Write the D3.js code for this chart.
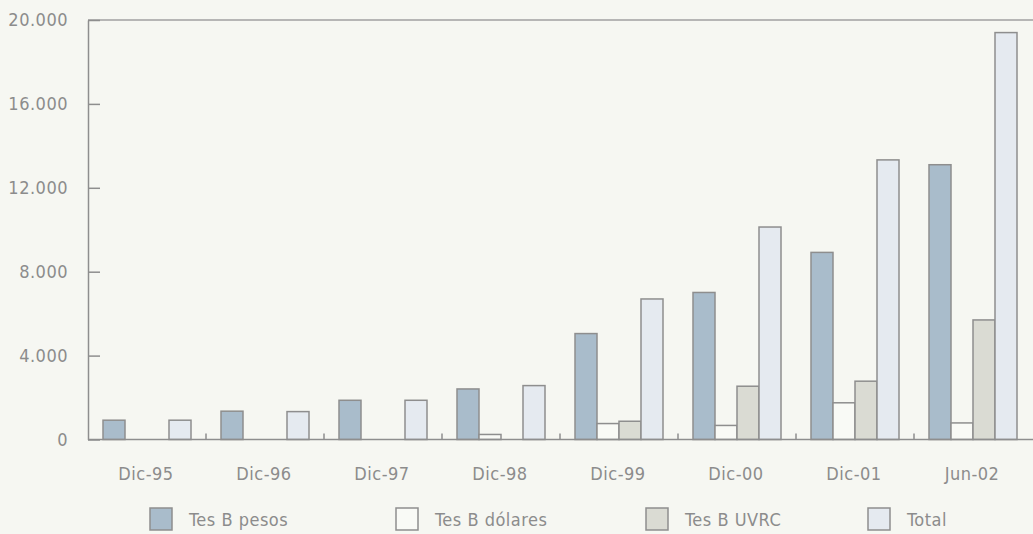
<!DOCTYPE html>
<html>
<head>
<meta charset="utf-8">
<script src="https://cdn.jsdelivr.net/npm/d3@7"></script>
<style>
  html, body { margin: 0; padding: 0; background: #f6f7f2; }
  svg { display: block; }
  text { font-family: "DejaVu Sans Condensed", "Liberation Sans", sans-serif; fill: #8c8c8c; letter-spacing: 0.5px; }
</style>
</head>
<body>
<svg id="chart" width="1033" height="534"></svg>
<script>
// Saldo de TES B por tipo (miles de millones)
const categories = ["Dic-95", "Dic-96", "Dic-97", "Dic-98", "Dic-99", "Dic-00", "Dic-01", "Jun-02"];
const seriesNames = ["Tes B pesos", "Tes B dólares", "Tes B UVRC", "Total"];
const tesPesos   = [920, 1350, 1870, 2410, 5050, 7010, 8920, 13100];
const tesDolares = [0, 0, 0, 240, 760, 670, 1750, 790];
const tesUVRC    = [0, 0, 0, 0, 870, 2540, 2780, 5700];
const total      = [920, 1330, 1870, 2570, 6700, 10130, 13330, 19400];
const yTicks     = [0, 4000, 8000, 12000, 16000, 20000];

const seriesValues = [tesPesos, tesDolares, tesUVRC, total];
const colors = ["#a9bccb", "#f9faf6", "#dadbd3", "#e5eaf0"];

const svg = d3.select("#chart");
const plotLeft = 88, plotRight = 1032, plotTop = 20, plotBottom = 439.5;
const fontSize = 18;

const x0 = d3.scaleBand().domain(categories).range([plotLeft, plotRight])
  .paddingInner(30 / 118).paddingOuter(15 / 118);
const x1 = d3.scaleBand().domain(seriesNames).range([0, x0.bandwidth()]).padding(0);
const y = d3.scaleLinear().domain([0, 20000]).range([plotBottom, plotTop]);

const locale = d3.formatLocale({ decimal: ",", thousands: ".", grouping: [3], currency: ["$", ""] });
const fmt = locale.format(",d");

// Bars
const rows = categories.map((c, i) => ({ cat: c, vals: seriesNames.map((s, j) => ({ s, j, v: seriesValues[j][i] })) }));
const groups = svg.append("g").selectAll("g").data(rows).join("g")
  .attr("transform", d => `translate(${x0(d.cat)},0)`);
groups.selectAll("rect").data(d => d.vals.filter(e => e.v > 0)).join("rect")
  .attr("x", d => x1(d.s))
  .attr("width", x1.bandwidth())
  .attr("y", d => y(d.v))
  .attr("height", d => y(0) - y(d.v))
  .attr("fill", d => colors[d.j])
  .attr("stroke", "#8e8e8e")
  .attr("stroke-width", 1.5);

// Frame: top rule and baseline
svg.append("line").attr("x1", plotLeft).attr("x2", 1033).attr("y1", plotTop).attr("y2", plotTop)
  .attr("stroke", "#a0a0a0").attr("stroke-width", 1.5);
svg.append("line").attr("x1", plotLeft).attr("x2", 1033).attr("y1", y(0)).attr("y2", y(0))
  .attr("stroke", "#8e8e8e").attr("stroke-width", 1.5);

// Y axis
const yAxis = svg.append("g").attr("transform", `translate(${plotLeft},0)`)
  .call(d3.axisLeft(y).tickValues(yTicks).tickFormat(fmt).tickSizeInner(-12).tickSizeOuter(0).tickPadding(20));
yAxis.select(".domain").attr("stroke", "#8e8e8e").attr("stroke-width", 1.5);
yAxis.selectAll(".tick line").attr("stroke", "#8e8e8e").attr("stroke-width", 1.5);
yAxis.selectAll(".tick text").attr("font-size", fontSize).attr("fill", "#8c8c8c")
  .style("font-family", '"DejaVu Sans Condensed", "Liberation Sans", sans-serif');

// Category separators on the baseline
const seps = categories.slice(1).map(c => x0(c) - x0.step() * x0.paddingInner() / 2);
svg.append("g").selectAll("line").data(seps).join("line")
  .attr("x1", d => d).attr("x2", d => d)
  .attr("y1", y(0)).attr("y2", y(0) - 6)
  .attr("stroke", "#8e8e8e").attr("stroke-width", 1.5);

// Category labels
svg.append("g").selectAll("text").data(categories).join("text")
  .attr("x", d => x0(d) + x0.bandwidth() / 2 - 1)
  .attr("y", 480)
  .attr("text-anchor", "middle")
  .attr("font-size", fontSize)
  .text(d => d);

// Legend
const legendX = [150, 396, 646, 868];
const legend = svg.append("g").selectAll("g").data(seriesNames).join("g")
  .attr("transform", (d, i) => `translate(${legendX[i]},508)`);
legend.append("rect").attr("width", 22).attr("height", 22)
  .attr("fill", (d, i) => colors[i]).attr("stroke", "#8e8e8e").attr("stroke-width", 1.5);
legend.append("text").attr("x", 39).attr("y", 18).attr("font-size", fontSize).text(d => d);
</script>
</body>
</html>
